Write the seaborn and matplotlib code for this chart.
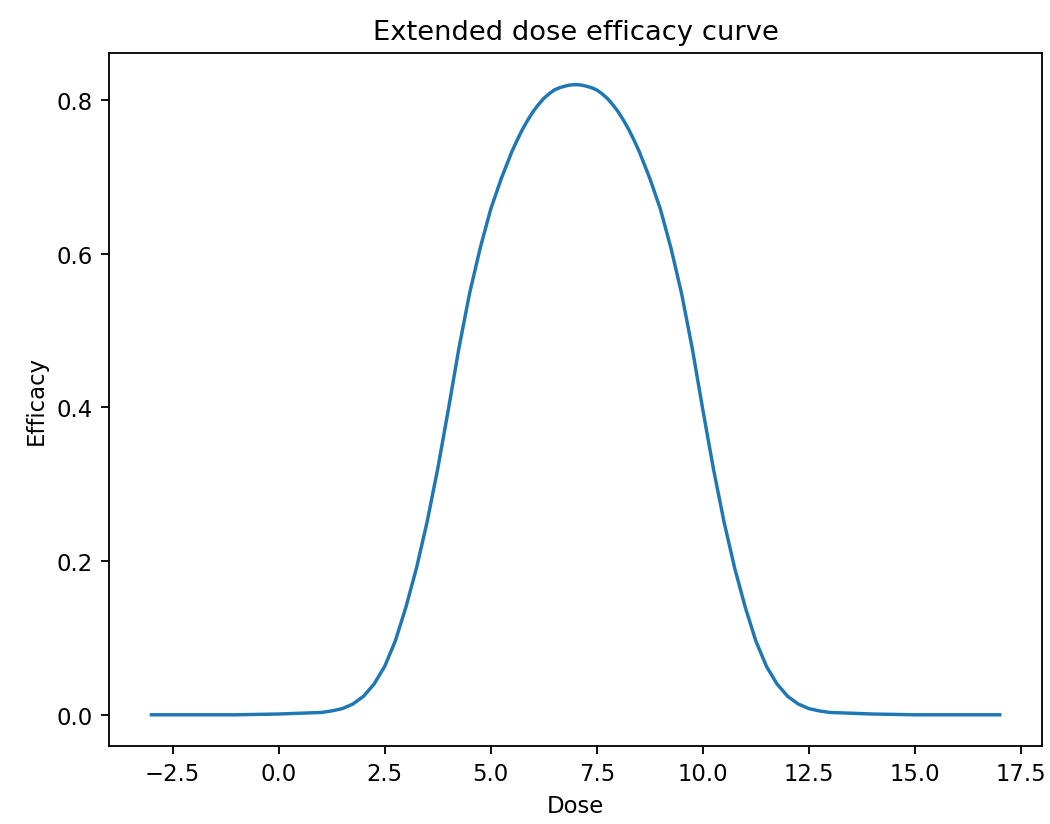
import pandas as pd
import matplotlib
matplotlib.use("Agg")
import matplotlib.pyplot as plt
import seaborn as sns

# Dose / efficacy values
dose = [-3.0, -2.0, -1.0, 0.0, 0.5, 1.0, 1.25, 1.5, 1.75,
        2.0, 2.25, 2.5, 2.75, 3.0, 3.25, 3.5, 3.75,
        4.0, 4.25, 4.5, 4.75, 5.0, 5.25, 5.5, 5.625, 5.75, 5.875,
        6.0, 6.125, 6.25, 6.375, 6.5, 6.625, 6.75, 6.875,
        7.0, 7.125, 7.25, 7.375, 7.5, 7.625, 7.75, 7.875,
        8.0, 8.125, 8.25, 8.375, 8.5, 8.75, 9.0, 9.25, 9.5, 9.75,
        10.0, 10.25, 10.5, 10.75, 11.0, 11.25, 11.5, 11.75,
        12.0, 12.25, 12.5, 12.75, 13.0, 14.0, 15.0, 16.0, 17.0]
efficacy = [0.0, 0.0, 0.0, 0.001, 0.002, 0.003, 0.005, 0.008, 0.014,
            0.024, 0.040, 0.063, 0.096, 0.140, 0.191, 0.251, 0.320,
            0.397, 0.477, 0.548, 0.607, 0.658, 0.698, 0.733, 0.748, 0.762, 0.774,
            0.785, 0.794, 0.802, 0.808, 0.813, 0.816, 0.818, 0.8195,
            0.820, 0.8195, 0.818, 0.816, 0.813, 0.808, 0.802, 0.794,
            0.785, 0.774, 0.762, 0.748, 0.733, 0.698, 0.658, 0.607, 0.548, 0.477,
            0.397, 0.320, 0.251, 0.191, 0.140, 0.096, 0.063, 0.040,
            0.024, 0.014, 0.008, 0.005, 0.003, 0.001, 0.0, 0.0, 0.0]

df = pd.DataFrame({"Dose": dose, "Efficacy": efficacy})

fig, ax = plt.subplots(figsize=(6.4, 5.024), dpi=164.2)
fig.subplots_adjust(left=0.1037, right=0.9917, bottom=0.0942, top=0.9345)

sns.lineplot(data=df, x="Dose", y="Efficacy", color="#1f77b4", linewidth=1.5, ax=ax)

ax.set_title("Extended dose efficacy curve")
ax.set_xlabel("Dose")
ax.set_ylabel("Efficacy")

fig.savefig("out.png", dpi=164.2)
